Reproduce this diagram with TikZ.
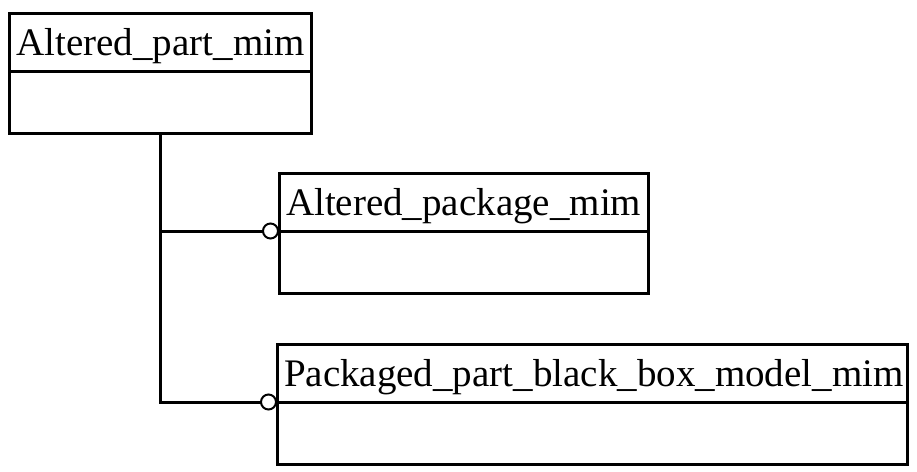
\documentclass[tikz,border=0pt]{standalone}
\usepackage{fontspec}
\setmainfont{Liberation Serif}
\begin{document}
\begin{tikzpicture}[x=1pt,y=-1pt,
  hdr/.style={draw, line width=3pt, anchor=north west, outer sep=0pt,
    inner xsep=7pt, inner ysep=0pt, text height=42pt, text depth=16pt,
    align=left, font=\fontsize{39}{41}\selectfont},
  body/.style={draw, line width=3pt, anchor=north west, outer sep=0pt,
    inner sep=0pt, minimum height=62pt},
  circ/.style={draw, circle, line width=2pt, fill=white, inner sep=0pt,
    minimum size=15pt, outer sep=0pt},
  link/.style={line width=3pt, line join=miter}]
\useasboundingbox (0,0) rectangle (917,471);
% entity 1
\node[hdr, text width=287.5pt] (h1) at (9.5,13) {Altered\_part\_mim};
\node[body, minimum width=301.5pt] (b1) at (h1.south west) {};
% entity 2
\node[hdr, text width=355pt] (h2) at (279,173) {Altered\_package\_mim};
\node[body, minimum width=369pt] (b2) at (h2.south west) {};
% entity 3
\node[hdr, text width=616pt] (h3) at (277,344) {Packaged\_part\_black\_box\_model\_mim};
\node[body, minimum width=630pt] (b3) at (h3.south west) {};
% connectors
\node[circ, anchor=east] (o2) at ([xshift=-1pt]h2.south west) {};
\node[circ, anchor=east] (o3) at ([xshift=-1pt]h3.south west) {};
\draw[link] (b1.south) |- (o2.west);
\draw[link] (b1.south) |- (o3.west);
\end{tikzpicture}
\end{document}
